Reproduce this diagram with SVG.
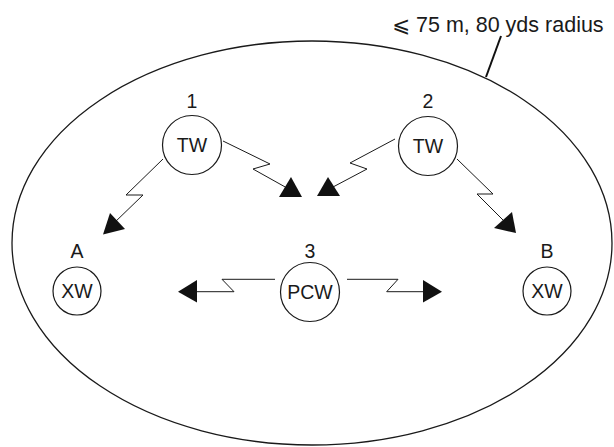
<svg xmlns="http://www.w3.org/2000/svg" width="614" height="447" viewBox="0 0 614 447">
<style>
.node{fill:#fff;stroke:#1a1a1a;stroke-width:1.2}
.t{font-family:"Liberation Sans","DejaVu Sans",sans-serif;font-size:19.5px;fill:#1a1a1a;text-anchor:middle}
.c{fill:none;stroke:#1a1a1a;stroke-width:1;stroke-linejoin:miter}
.ah{fill:#111;stroke:none}
</style>
<rect width="614" height="447" fill="#fff"/>
<ellipse id="range" cx="312" cy="243" rx="300" ry="202" fill="none" stroke="#1a1a1a" stroke-width="1.3"/>
<g id="radius-label">
<line x1="501" y1="36" x2="486" y2="77" stroke="#111" stroke-width="2"/>
<text x="392" y="32" font-family="Liberation Sans, DejaVu Sans, sans-serif" font-size="21.5" fill="#1a1a1a">⩽ 75 m, 80 yds radius</text>
</g>
<g id="connectors">
<polyline class="c" points="163,159 126,195 143,195 113,224"/>
<polygon class="ah" points="110,213 103,234.5 125,229"/>
<polyline class="c" points="223,141 270,164 253,169 287,188"/>
<polygon class="ah" points="291,177 279,197 302,197"/>
<polyline class="c" points="395,139 350,163 367,169 333,187"/>
<polygon class="ah" points="328,177 317,196 340,196"/>
<polyline class="c" points="457,159 493,194 477,194 505,222"/>
<polygon class="ah" points="512,212 494,228 516,233"/>
<polyline class="c" points="275,279.3 222,279.3 234,291.7 197,291.7"/>
<polygon class="ah" points="178,291.7 197,280 197,302.5"/>
<polyline class="c" points="347,279.3 398,279.3 386.7,291.7 423,291.7"/>
<polygon class="ah" points="442,291.7 423,280 423,302.5"/>
</g>
<g id="node-1">
<text class="t" x="192" y="108">1</text>
<circle class="node" cx="192" cy="145" r="29.5"/>
<text class="t" x="192" y="152">TW</text>
</g>
<g id="node-2">
<text class="t" x="428" y="108">2</text>
<circle class="node" cx="428" cy="146" r="29.5"/>
<text class="t" x="428" y="153">TW</text>
</g>
<g id="node-3">
<text class="t" x="310" y="258">3</text>
<circle class="node" cx="310" cy="292" r="29.5"/>
<text class="t" x="310" y="299">PCW</text>
</g>
<g id="node-A">
<text class="t" x="77" y="258">A</text>
<circle class="node" cx="77" cy="291" r="24"/>
<text class="t" x="77" y="298">XW</text>
</g>
<g id="node-B">
<text class="t" x="547" y="258">B</text>
<circle class="node" cx="547" cy="291" r="24"/>
<text class="t" x="547" y="298">XW</text>
</g>
</svg>
